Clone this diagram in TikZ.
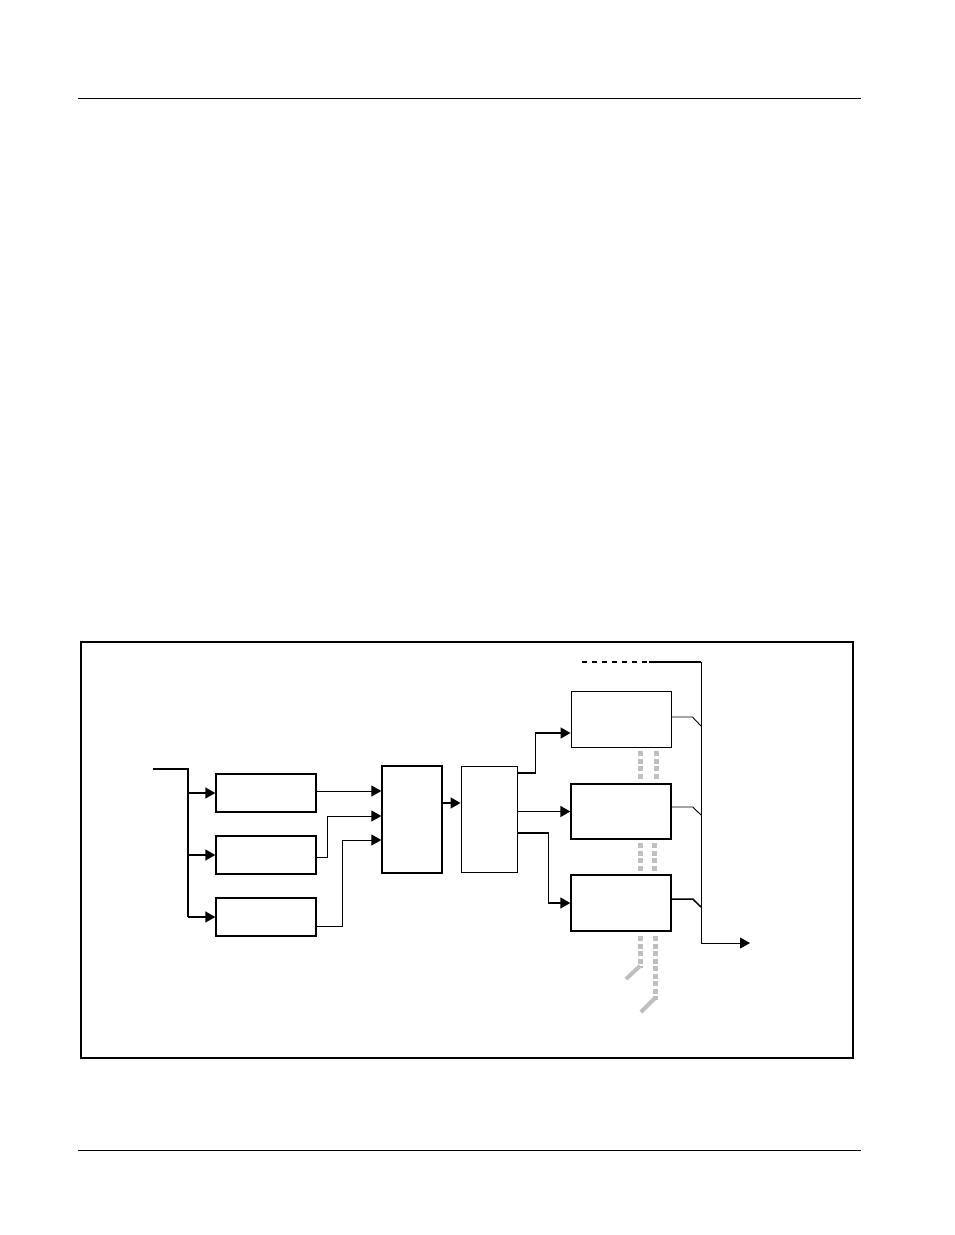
\documentclass[tikz,border=0pt]{standalone}
\usetikzlibrary{arrows.meta,calc}
\begin{document}
\begin{tikzpicture}[x=1pt,y=-1pt,
  boxthick/.style={draw,line width=1.4pt,rectangle,inner sep=0pt},
  boxthin/.style={draw,line width=0.9pt,rectangle,inner sep=0pt},
  tip/.style={-{Triangle[length=10pt,width=11pt]}},
  conthin/.style={line width=0.9pt},
  conthick/.style={line width=1.5pt},
  graydash/.style={draw=black!25,line width=5pt,dash pattern=on 5pt off 2.5pt},
  graysolid/.style={draw=black!25,line width=4pt}]
\useasboundingbox (0,0) rectangle (954,1235);
% page rules
\draw[line width=1pt] (78,98) -- (861,98);
\draw[line width=1pt] (78,1150) -- (861,1150);
% frame
\draw[line width=1.3pt] (81,642) rectangle (853,1058);
% boxes
\node[boxthick,minimum width=100pt,minimum height=38pt] (A) at (266,793) {};
\node[boxthick,minimum width=100pt,minimum height=38pt] (B) at (266,855) {};
\node[boxthick,minimum width=100pt,minimum height=38pt] (C) at (266,917) {};
\node[boxthick,minimum width=60pt,minimum height=107pt] (M) at (412,819.5) {};
\node[boxthin,minimum width=56pt,minimum height=106pt] (N) at (489,819) {};
\node[boxthin,minimum width=100pt,minimum height=56pt] (P1) at (621,719) {};
\node[boxthick,minimum width=100pt,minimum height=55pt] (P2) at (621,811.5) {};
\node[boxthick,minimum width=100pt,minimum height=56pt] (P3) at (621,903) {};
% input and branches
\coordinate (in) at (153,769);
\coordinate (br) at (188,769);
\coordinate (brend) at (188,917);
\draw[conthick] (in) -- (br) -- (brend);
\draw[conthick,tip] (A.west -| br) -- (A.west);
\draw[conthick,tip] (B.west -| br) -- (B.west);
\draw[conthick,tip] (C.west -| br) -- (C.west);
% to mixer
\draw[conthin,tip] ($(A.east)+(0,-2)$) -- ($(M.west)+(0,-28.5)$);
\draw[conthin,tip] ($(B.east)+(0,2)$) -- ++(11,0) |- ($(M.west)+(0,-3.5)$);
\draw[conthin,tip] ($(C.east)+(0,9)$) -- ++(26,0) |- ($(M.west)+(0,20.5)$);
\draw[conthick,tip] ($(M.east)+(0,-16.5)$) -- ($(N.west)+(0,-16)$);
% to outputs
\draw[conthick,tip] ($(N.east)+(0,-46)$) -- ++(18,0) |- ($(P1.west)+(0,14)$);
\draw[line width=1.8pt,tip] (N.east |- P2.west) -- (P2.west);
\draw[conthick,tip] ($(N.east)+(0,14)$) -- ++(31,0) |- (P3.west);
% bus
\coordinate (dstart) at (582,662);
\coordinate (dend) at (649,662);
\coordinate (btop) at (701,662);
\coordinate (bbot) at (701,943);
\coordinate (out) at (750,943);
\draw[line width=1.5pt,dash pattern=on 4.5pt off 5.5pt] (dstart) -- (dend);
\draw[line width=1.5pt] (dend) -- (btop);
\draw[conthin] (btop) -- (bbot);
\draw[conthin,tip] (bbot) -- (out);
\draw[conthin] ($(P1.east)+(0,-2)$) -- ++(21,0) -- (701,726);
\draw[conthin] ($(P2.east)+(0,-4.5)$) -- ++(21,0) -- (701,815);
\draw[conthick] ($(P3.east)+(0,-4)$) -- ++(21,0) -- (701,907);
% gray dashed links
\draw[graydash] (640,751) -- (640,779);
\draw[graydash] (656,751) -- (656,779);
\draw[graydash] (640,843) -- (640,871);
\draw[graydash] (654,843) -- (654,871);
\draw[graydash] (640,936) -- (640,968);
\draw[graysolid] (640,966) -- (626,979);
\draw[graydash] (655,936) -- (655,1000);
\draw[graysolid] (655,998) -- (641,1012);
\end{tikzpicture}
\end{document}
